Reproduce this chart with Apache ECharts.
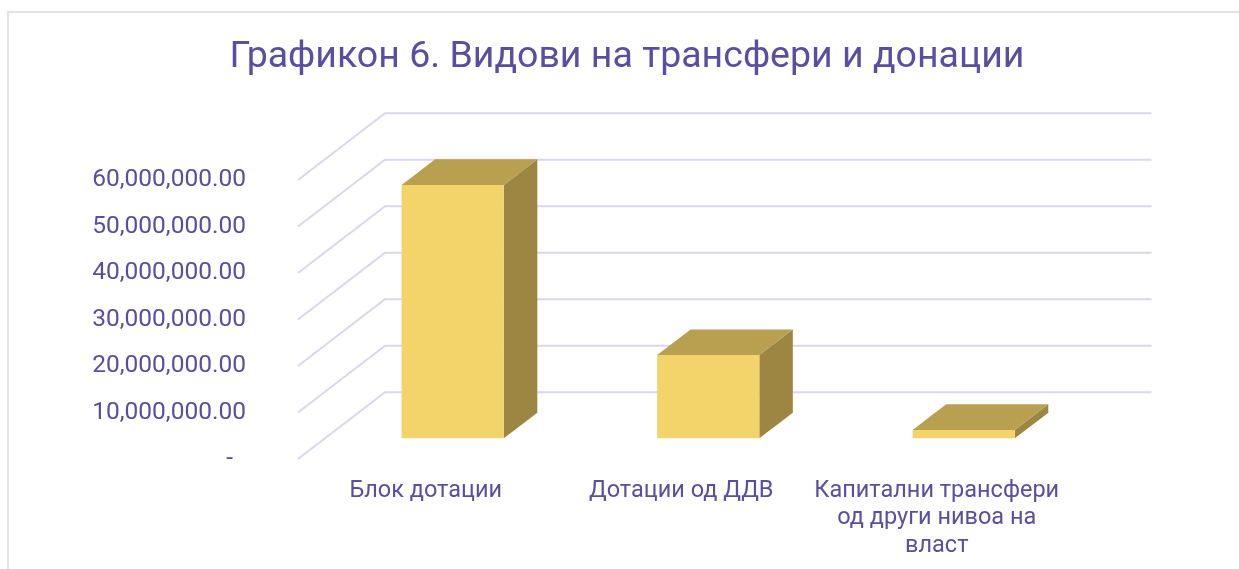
<!DOCTYPE html>
<html>
<head>
<meta charset="utf-8">
<script src="https://cdn.jsdelivr.net/npm/echarts@6/dist/echarts.min.js"></script>
<style>
  html, body { margin: 0; padding: 0; background: #fff; }
  #chart { width: 1239px; height: 569px; }
</style>
</head>
<body>
<div id="chart"></div>
<script>
// data
const categories = ['Блок дотации', 'Дотации од ДДВ', 'Капитални трансфери од други нивоа на власт'];
const values = [54500000, 17900000, 1800000];
const yTicks = [0, 10000000, 20000000, 30000000, 40000000, 50000000, 60000000];

const TEXT = '#5a4ea0';
const GRID = '#d9d6ee';
const FONT = 'Roboto';
const DX = 87, DY = -66.7; // depth of the floor, in px
const FRONT = 0.31, BACK = 0.695; // where bars sit in the depth

// value label like excel accounting format
function fmt(v) {
  if (v === 0) return '{z|-}';
  let s = Math.round(v).toString().replace(/\B(?=(\d{3})+(?!\d))/g, ',');
  return s + '.00';
}

// word wrap the category names at a fixed width
let ctx = document.createElement('canvas').getContext('2d');
function wrap(text, maxW, font) {
  ctx.font = font;
  let lines = [], cur = '';
  text.split(' ').forEach(w => {
    let t = cur ? cur + ' ' + w : w;
    if (cur && ctx.measureText(t).width > maxW) {
      lines.push(cur);
      cur = w;
    } else {
      cur = t;
    }
  });
  lines.push(cur);
  return lines.join('\n');
}

let chart = echarts.init(document.getElementById('chart'));

chart.setOption({
  animation: false,
  title: {
    text: 'Графикон 6. Видови на трансфери и донации',
    left: 622,
    top: 34,
    textAlign: 'center',
    textStyle: { color: TEXT, fontFamily: FONT, fontSize: 37.5, fontWeight: 'normal' }
  },
  graphic: [{
    type: 'rect',
    shape: { x: 8, y: 12, width: 1300, height: 620 },
    style: { fill: 'none', stroke: GRID, lineWidth: 1.5 },
    silent: true
  }],
  grid: { left: 298, right: 174.5, top: 180, bottom: 110, containLabel: false, outerBoundsMode: 'none' },
  xAxis: {
    type: 'category',
    data: categories,
    axisLine: { show: false },
    axisTick: { show: false },
    axisLabel: {
      color: TEXT, fontFamily: FONT, fontSize: 23.5, margin: 18,
      lineHeight: 27.5, interval: 0, hideOverlap: false,
      formatter: v => wrap(v, 262, '23.5px Roboto')
    }
  },
  yAxis: {
    type: 'value',
    min: 0,
    max: 60000000,
    interval: 10000000,
    splitLine: { show: false },
    axisLine: { show: false },
    axisTick: { show: false },
    axisLabel: {
      color: TEXT, fontFamily: FONT, fontSize: 24.5, margin: 52,
      formatter: fmt,
      rich: { z: { color: TEXT, fontFamily: FONT, fontSize: 24.5, padding: [0, 13, 0, 0] } }
    }
  },
  series: [
    {
      // wall grid lines: side wall diagonal + back wall horizontal
      type: 'custom',
      clip: false,
      silent: true,
      data: yTicks.map(v => [0, v]),
      renderItem(params, api) {
        const cs = params.coordSys;
        const y = api.coord([0, api.value(1)])[1];
        return {
          type: 'polyline',
          shape: { points: [[cs.x, y], [cs.x + DX, y + DY], [cs.x + cs.width + DX, y + DY]] },
          style: { stroke: GRID, lineWidth: 2, fill: 'none' }
        };
      }
    },
    {
      // 3d boxes
      type: 'custom',
      clip: false,
      data: values.map((v, i) => [i, v]),
      renderItem(params, api) {
        const i = api.value(0);
        const base = api.coord([i, 0]);
        const top = api.coord([i, api.value(1)]);
        const w = api.size([1, 0])[0] * 0.4;
        const fx = DX * FRONT, fy = DY * FRONT;
        const dx = DX * (BACK - FRONT), dy = DY * (BACK - FRONT);
        const x0 = base[0] + fx - w / 2, x1 = x0 + w;
        const yb = base[1] + fy, yt = top[1] + fy;
        return {
          type: 'group',
          children: [
            {
              type: 'polygon',
              shape: { points: [[x1, yt], [x1 + dx, yt + dy], [x1 + dx, yb + dy], [x1, yb]] },
              style: { fill: '#9c8642' }
            },
            {
              type: 'polygon',
              shape: { points: [[x0, yt], [x1, yt], [x1 + dx, yt + dy], [x0 + dx, yt + dy]] },
              style: { fill: '#b9a050' }
            },
            {
              type: 'rect',
              shape: { x: x0, y: yt, width: w, height: yb - yt },
              style: { fill: '#f2d46b' }
            }
          ]
        };
      }
    }
  ]
});
</script>
</body>
</html>
